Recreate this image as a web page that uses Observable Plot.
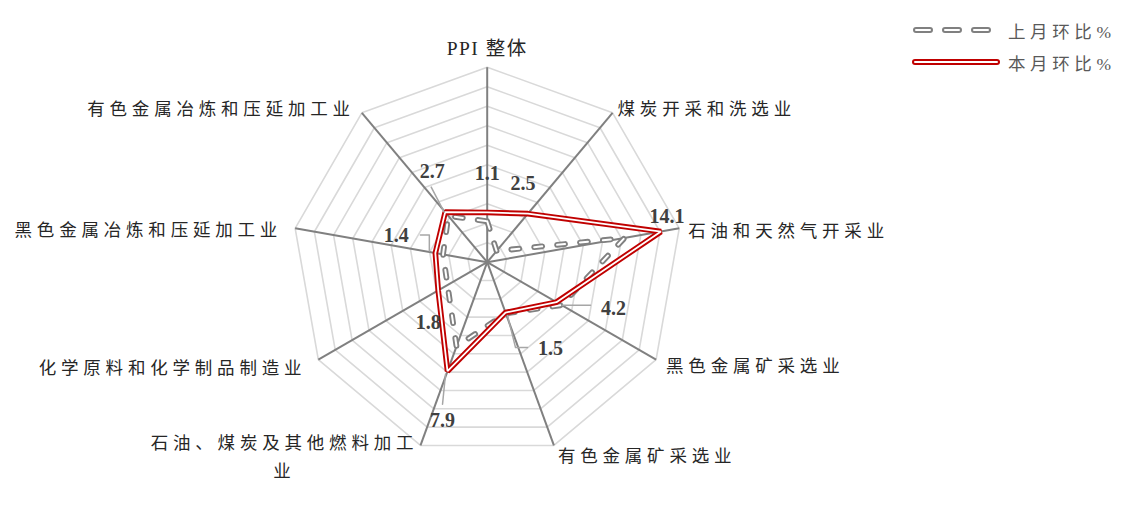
<!DOCTYPE html>
<html>
<head>
<meta charset="utf-8">
<script src="https://cdn.jsdelivr.net/npm/d3@7"></script>
<script src="https://cdn.jsdelivr.net/npm/@observablehq/plot@0.6"></script>
<style>
  body { margin: 0; background: #fff; }
  #wrap { position: relative; width: 1128px; height: 515px; overflow: hidden; }
  #legend { position: absolute; left: 910px; top: 14px; font-family: 'Liberation Serif','Noto Sans CJK SC',serif; font-size: 17.5px; color: #595959; letter-spacing: 4.6px; }
  #legend .row { display: flex; align-items: center; height: 32px; }
  #legend svg { margin-right: 6px; }
</style>
</head>
<body>
<div id="wrap"><div id="legend"></div></div>
<script>
// ---- data ----
const categories = ["PPI 整体", "煤炭开采和洗选业", "石油和天然气开采业", "黑色金属矿采选业", "有色金属矿采选业", "石油、煤炭及其他燃料加工业", "化学原料和化学制品制造业", "黑色金属冶炼和压延加工业", "有色金属冶炼和压延加工业"];
const lastMonth = [0.2, -2.5, 10.3, 4.8, 1.6, 5.2, 0.7, 0.6, 2.2];
const thisMonth = [1.1, 2.5, 14.1, 4.2, 1.5, 7.9, 1.8, 1.4, 2.7];
const seriesNames = ["上月环比%", "本月环比%"];
const axisMin = -4, axisMax = 16, axisStep = 2;

// ---- layout config (pixels) ----
const W = 1128, H = 515;
const ML = 291.7, MR = 446.3, MT = 66.7, MB = 58.3;
const RPX = (W - ML - MR) / 2;
// category label offsets from axis end: [dx, dy, anchor]
const catLabelLayout = [[0, -22, "middle"], [5, -7, "start"], [9, 0, "start"], [10, 3, "start"], [4, 8, "start"], [-136, 9, "middle"], [-12, 5, "end"], [-13, -1, "end"], [-7, -7, "end"]];
// value label offsets from the point
const valueLabelOffset = [[0, -39], [-5, -30], [6, -15], [57, 6], [45, 36], [-5, 49], [-10, 32], [-39, -17], [-13, -41]];
const leaderPaths = [[], [], [], [[6, 3], [34, 3]], [[2, 3], [10, 35], [22, 35]], [[-2, 3], [-5, 33]], [], [[-6, -2], [-6, -18], [-15, -18]], [[-1, 0], [-14, -25]]];

// ---- helpers ----
const n = categories.length;
const ang = i => i * 2 * Math.PI / n;
const norm = v => (v - axisMin) / (axisMax - axisMin);
const px2d = ([dx, dy]) => [dx / RPX, -dy / RPX];
const pt = (v, i) => ({ i, v, x: norm(v) * Math.sin(ang(i)), y: norm(v) * Math.cos(ang(i)) });

const ticks = d3.range(axisMin + axisStep, axisMax + 1e-9, axisStep);
const rings = ticks.flatMap(t => categories.map((c, i) => ({ ring: t, ...pt(t, i) })));
const spokes = categories.map((c, i) => ({ c, i, x: Math.sin(ang(i)), y: Math.cos(ang(i)) }));
const lastPts = lastMonth.map((v, i) => pt(v, i));
const thisPts = thisMonth.map((v, i) => pt(v, i));

const catLabels = categories.map((c, i) => {
  const [dx, dy, anchor] = catLabelLayout[i];
  const [ox, oy] = px2d([dx, dy]);
  const label = i === 5 ? "石油、煤炭及其他燃料加工\n业" : c;
  return { label, anchor, x: spokes[i].x + ox, y: spokes[i].y + oy };
});
const valueLabels = thisPts.map((p, i) => {
  const [ox, oy] = px2d(valueLabelOffset[i]);
  return { label: thisMonth[i].toFixed(1), x: p.x + ox, y: p.y + oy };
});
const leaders = thisPts.flatMap((p, i) => leaderPaths[i].map(o => {
  const [ox, oy] = px2d(o);
  return { k: i, x: p.x + ox, y: p.y + oy };
}));

const font = "'Liberation Serif','Noto Sans CJK SC',serif";
const catText = anchor => Plot.text(catLabels.filter(d => d.anchor === anchor), {
  x: "x", y: "y", text: "label", textAnchor: anchor, fontSize: 17.5, fill: "#262626",
  lineHeight: 1.6
});

const chart = Plot.plot({
  width: W, height: H,
  marginLeft: ML, marginRight: MR, marginTop: MT, marginBottom: MB,
  x: { domain: [-1, 1], axis: null },
  y: { domain: [-1, 1], axis: null },
  style: { fontFamily: font, background: "#fff", overflow: "visible" },
  marks: [
    Plot.line(rings, { x: "x", y: "y", z: "ring", curve: "linear-closed", stroke: "#d9d9d9", strokeWidth: 1.6 }),
    Plot.link(spokes, { x1: 0, y1: 0, x2: "x", y2: "y", stroke: "#808080", strokeWidth: 2 }),
    Plot.line(lastPts, { x: "x", y: "y", curve: "linear-closed", stroke: "#808080", strokeWidth: 5.8, strokeDasharray: "8,15", strokeLinecap: "round", strokeLinejoin: "round" }),
    Plot.line(lastPts, { x: "x", y: "y", curve: "linear-closed", stroke: "#ffffff", strokeWidth: 2, strokeDasharray: "8,15", strokeLinecap: "round", strokeLinejoin: "round" }),
    Plot.line(thisPts, { x: "x", y: "y", curve: "linear-closed", stroke: "#c00000", strokeWidth: 5.6, strokeLinejoin: "miter" }),
    Plot.line(thisPts, { x: "x", y: "y", curve: "linear-closed", stroke: "#ffffff", strokeWidth: 1.8, strokeLinejoin: "miter" }),
    Plot.line(leaders, { x: "x", y: "y", z: "k", stroke: "#a6a6a6", strokeWidth: 1.5 }),
    Plot.text(valueLabels, { x: "x", y: "y", text: "label", fontSize: 20, fontWeight: "bold", fill: "#404040" }),
    catText("start"), catText("middle"), catText("end")
  ]
});
chart.querySelectorAll("text").forEach(t => {
  const s = t.textContent;
  if (s.startsWith("PPI")) { t.setAttribute("font-size", "19.5"); t.setAttribute("letter-spacing", "1.5"); }
  else if (/[\u4e00-\u9fff]/.test(s)) t.setAttribute("letter-spacing", "4.8");
});
document.getElementById("wrap").prepend(chart);

// ---- legend ----
const legend = d3.select("#legend");
seriesNames.forEach((name, k) => {
  const row = legend.append("div").attr("class", "row");
  const svg = row.append("svg").attr("width", 92).attr("height", 14);
  if (k === 0) {
    svg.append("line").attr("x1", 6).attr("x2", 84).attr("y1", 7).attr("y2", 7)
      .attr("stroke", "#808080").attr("stroke-width", 6).attr("stroke-dasharray", "14,15").attr("stroke-linecap", "round");
    svg.append("line").attr("x1", 6).attr("x2", 84).attr("y1", 7).attr("y2", 7)
      .attr("stroke", "#fff").attr("stroke-width", 2).attr("stroke-dasharray", "14,15").attr("stroke-linecap", "round");
  } else {
    svg.append("line").attr("x1", 5).attr("x2", 87).attr("y1", 7).attr("y2", 7)
      .attr("stroke", "#c00000").attr("stroke-width", 6).attr("stroke-linecap", "round");
    svg.append("line").attr("x1", 5).attr("x2", 87).attr("y1", 7).attr("y2", 7)
      .attr("stroke", "#fff").attr("stroke-width", 2).attr("stroke-linecap", "round");
  }
  row.append("span").text(name);
});
</script>
</body>
</html>
